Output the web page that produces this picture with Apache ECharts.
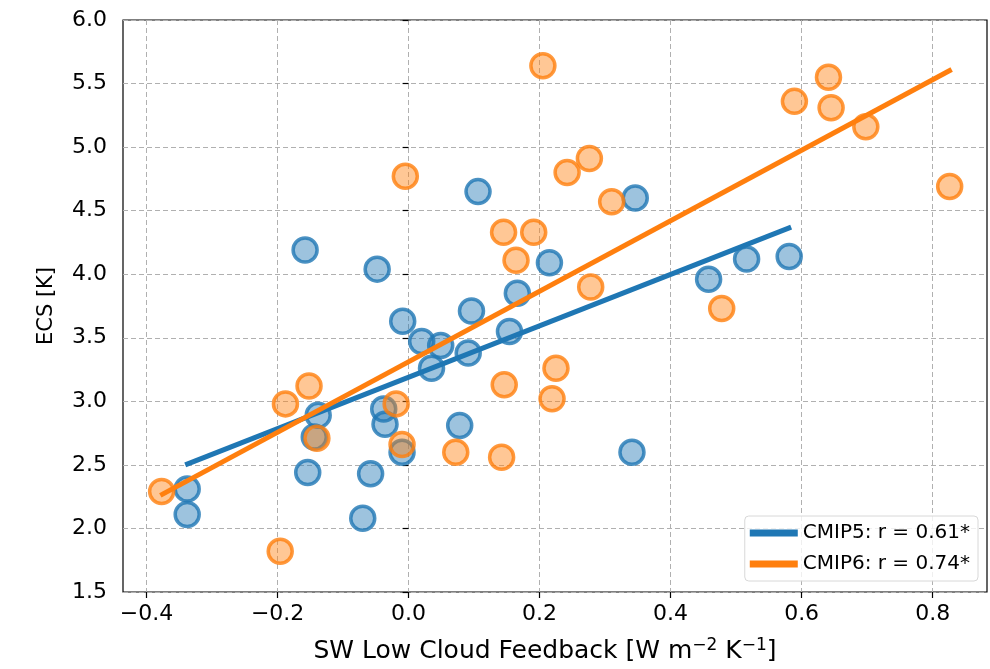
<!DOCTYPE html>
<html>
<head>
<meta charset="utf-8">
<title>ECS vs SW low cloud feedback</title>
<style>
html, body { margin: 0; padding: 0; background: #fff; }
#main { width: 990px; height: 669px; }
</style>
</head>
<body>
<div id="main"></div>
<script src="https://cdn.jsdelivr.net/npm/echarts@6/dist/echarts.min.js"></script>
<script>
// CMIP5 models: [SW low cloud feedback, ECS]
var cmip5 = [
  [-0.338, 2.31], [-0.338, 2.11], [-0.158, 4.19], [-0.138, 2.89], [-0.144, 2.72],
  [-0.154, 2.44], [-0.070, 2.08], [-0.058, 2.43], [-0.048, 4.04], [-0.038, 2.94],
  [-0.036, 2.82], [-0.010, 2.60], [-0.009, 3.63], [0.020, 3.47], [0.049, 3.44],
  [0.035, 3.26], [0.091, 3.38], [0.096, 3.71], [0.154, 3.55], [0.078, 2.81],
  [0.341, 2.60], [0.106, 4.65], [0.215, 4.09], [0.166, 3.85], [0.346, 4.60],
  [0.458, 3.96], [0.516, 4.12], [0.581, 4.14]
];
// CMIP6 models
var cmip6 = [
  [-0.377, 2.29], [-0.196, 1.82], [-0.188, 2.98], [-0.152, 3.12], [-0.140, 2.71],
  [-0.019, 2.98], [-0.010, 2.66], [-0.005, 4.77], [0.072, 2.60], [0.142, 2.56],
  [0.146, 3.13], [0.219, 3.02], [0.225, 3.26], [0.205, 5.64], [0.145, 4.33],
  [0.191, 4.33], [0.164, 4.11], [0.242, 4.80], [0.276, 4.91], [0.310, 4.57],
  [0.278, 3.90], [0.478, 3.73], [0.589, 5.36], [0.641, 5.55], [0.645, 5.31],
  [0.698, 5.16], [0.826, 4.69]
];
// regression line end points
var fit5 = [[-0.341, 2.50], [0.584, 4.37]];
var fit6 = [[-0.379, 2.26], [0.829, 5.61]];
var xTicks = [-0.4, -0.2, 0.0, 0.2, 0.4, 0.6, 0.8];
var names = ['CMIP5: r = 0.61*', 'CMIP6: r = 0.74*'];

var blue = '#1f77b4', orange = '#ff7f0e';
var font = 'DejaVu Sans';

function fmt(v) {
  return (v < 0 ? '\u2212' : '') + Math.abs(v).toFixed(1);
}

var option = {
  animation: false,
  textStyle: { fontFamily: font },
  grid: {
    left: 123, right: 3, top: 20, bottom: 77,
    show: true, borderColor: '#000', borderWidth: 1.2, backgroundColor: '#fff'
  },
  legend: {
    right: 12, bottom: 88,
    orient: 'vertical',
    data: names,
    icon: 'rect',
    itemWidth: 48, itemHeight: 7,
    itemGap: 11,
    padding: [7, 8, 7, 5],
    borderColor: '#d8d8d8', borderWidth: 1, borderRadius: 4,
    backgroundColor: 'rgba(255,255,255,0.8)',
    textStyle: { fontFamily: font, fontSize: 20, color: '#000' }
  },
  xAxis: {
    type: 'value',
    min: -0.436, max: 0.883,
    name: '{a|SW Low Cloud Feedback [W m}{s|\u22122}{a| K}{s|\u22121}{a|]}',
    nameLocation: 'middle',
    nameGap: 45,
    nameTextStyle: {
      padding: [0, 20, 0, 0],
      rich: {
        a: { fontFamily: font, fontSize: 25, color: '#000' },
        s: { fontFamily: font, fontSize: 17, color: '#000', padding: [0, 0, 12, 0] }
      }
    },
    axisLine: { show: false },
    axisTick: { show: true, length: 6, customValues: xTicks, lineStyle: { color: '#000', width: 1.2 } },
    axisLabel: { customValues: xTicks, fontSize: 22, color: '#000', margin: 11, formatter: fmt },
    splitLine: { show: true, lineStyle: { color: '#b0b0b0', type: [5, 3], width: 1 } }
  },
  yAxis: {
    type: 'value',
    min: 1.5, max: 6.0, interval: 0.5,
    name: 'ECS [K]',
    nameLocation: 'middle',
    nameGap: 66,
    nameTextStyle: { fontSize: 21, color: '#000', fontFamily: font },
    axisLine: { show: false },
    axisTick: { show: true, length: 6, lineStyle: { color: '#000', width: 1.2 } },
    axisLabel: { fontSize: 22, color: '#000', margin: 16, formatter: function (v) { return v.toFixed(1); } },
    splitLine: { show: true, lineStyle: { color: '#b0b0b0', type: [5, 3], width: 1 } }
  },
  series: [
    {
      name: 'CMIP5 models', type: 'scatter', data: cmip5, z: 2,
      symbolSize: 24,
      itemStyle: { color: 'rgba(31,119,180,0.55)', borderColor: blue, borderWidth: 3.5 }
    },
    {
      name: 'CMIP6 models', type: 'scatter', data: cmip6, z: 3,
      symbolSize: 24,
      itemStyle: { color: 'rgba(255,127,14,0.55)', borderColor: orange, borderWidth: 3.5 }
    },
    {
      name: names[0], type: 'line', data: fit5, z: 4, showSymbol: false,
      itemStyle: { color: blue },
      lineStyle: { color: blue, width: 5 }
    },
    {
      name: names[1], type: 'line', data: fit6, z: 5, showSymbol: false,
      itemStyle: { color: orange },
      lineStyle: { color: orange, width: 5 }
    }
  ]
};

var chart = echarts.init(document.getElementById('main'));
chart.setOption(option);
</script>
</body>
</html>
